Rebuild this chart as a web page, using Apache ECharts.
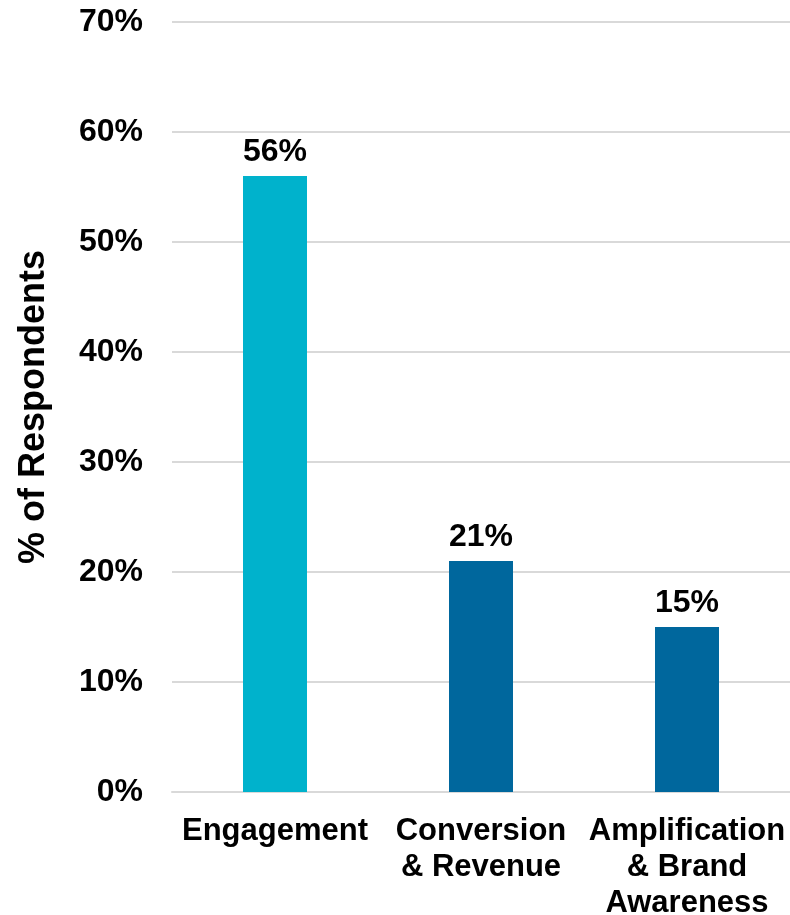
<!DOCTYPE html>
<html>
<head>
<meta charset="utf-8">
<script src="https://cdn.jsdelivr.net/npm/echarts@6/dist/echarts.min.js"></script>
<style>
  html, body { margin: 0; padding: 0; background: #fff; }
  #chart { width: 790px; height: 915px; }
</style>
</head>
<body>
<div id="chart"></div>
<script>
// ---------- data ----------
const categories = ['Engagement', 'Conversion\n& Revenue', 'Amplification\n& Brand\nAwareness'];
const respondentShare = [56, 21, 15];
const barColors = ['#00B2CC', '#00679D'];
const yTicks = { min: 0, max: 70, step: 10 };
// --------------------------

const font = 'Liberation Sans, Arial, Helvetica, sans-serif';
const chart = echarts.init(document.getElementById('chart'));

chart.setOption({
  animation: false,
  backgroundColor: '#fff',
  grid: { left: 172, right: 0, top: 22, bottom: 123, containLabel: false, outerBoundsMode: 'none' },
  xAxis: {
    type: 'category',
    data: categories,
    axisTick: { show: false },
    axisLine: { lineStyle: { color: '#d9d9d9', width: 2 } },
    axisLabel: {
      interval: 0,
      margin: 21,
      color: '#000',
      fontFamily: font,
      fontWeight: 'bold',
      fontSize: 31,
      lineHeight: 36,
    },
  },
  yAxis: {
    type: 'value',
    min: yTicks.min,
    max: yTicks.max,
    interval: yTicks.step,
    name: '% of Respondents',
    nameLocation: 'middle',
    nameGap: 120,
    nameTextStyle: {
      color: '#000',
      fontFamily: font,
      fontWeight: 'bold',
      fontSize: 36,
    },
    axisLine: { show: false },
    axisTick: { show: false },
    splitLine: { lineStyle: { color: '#d9d9d9', width: 2 } },
    axisLabel: {
      margin: 29,
      color: '#000',
      fontFamily: font,
      fontWeight: 'bold',
      fontSize: 32,
      formatter: (v) => v + '%',
    },
  },
  series: [
    {
      type: 'bar',
      barWidth: 64,
      data: respondentShare.map((v, i) => ({
        value: v,
        itemStyle: { color: i === 0 ? barColors[0] : barColors[1] },
      })),
      label: {
        show: true,
        position: 'top',
        distance: 8,
        color: '#000',
        fontFamily: font,
        fontWeight: 'bold',
        fontSize: 32,
        formatter: (p) => p.value + '%',
      },
    },
  ],
});
</script>
</body>
</html>
